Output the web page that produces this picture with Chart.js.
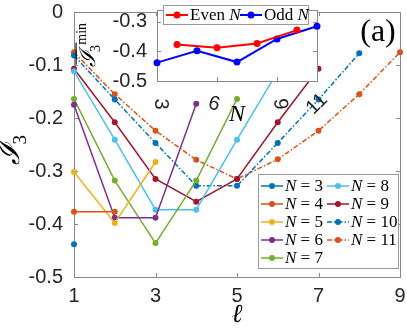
<!DOCTYPE html>
<html lang="en">
<head>
  <meta charset="UTF-8" />
  <title>I3 vs l</title>
  <script src="https://cdn.jsdelivr.net/npm/chart.js"></script>
  <style>
    html, body { margin: 0; padding: 0; background: #fff; }
    #wrap { position: relative; width: 407px; height: 332px; }
    #mainChart { position: absolute; left: 0; top: 0; }
    #insetChart { position: absolute; left: 70px; top: 0; }
  </style>
</head>
<body>
<div id="wrap">
  <canvas id="mainChart" width="407" height="332"></canvas>
  <canvas id="insetChart" width="270" height="130"></canvas>
</div>

<script>
  // main panel: I3 against subsystem size l, one curve per N
  const ell = [1, 2, 3, 4, 5, 6, 7, 8, 9];
  const sizes = [3, 4, 5, 6, 7, 8, 9, 10, 11];
  const i3N3 = [-0.438];
  const i3N4 = [-0.377, -0.377];
  const i3N5 = [-0.302, -0.398, -0.283];
  const i3N6 = [-0.175, -0.388, -0.388, -0.173];
  const i3N7 = [-0.164, -0.318, -0.436, -0.318, -0.164];
  const i3N8 = [-0.112, -0.241, -0.373, -0.373, -0.241, -0.112];
  const i3N9 = [-0.107, -0.208, -0.315, -0.358, -0.315, -0.208, -0.107];
  const i3N10 = [-0.082, -0.165, -0.247, -0.328, -0.328, -0.247, -0.165, -0.078];
  const i3N11 = [-0.076, -0.155, -0.224, -0.279, -0.315, -0.278, -0.224, -0.155, -0.076];
  const xTicks = [1, 3, 5, 7, 9];
  const yTicks = [0, -0.1, -0.2, -0.3, -0.4, -0.5];

  // inset: minimum of I3 over l, split by parity of N
  const evenN = [4, 6, 8, 10];
  const evenMin = [-0.377, -0.388, -0.373, -0.328];
  const oddN = [3, 5, 7, 9, 11];
  const oddMin = [-0.438, -0.398, -0.436, -0.358, -0.315];
  const insetXTicks = [3, 6, 9, 11];
  const insetYTicks = [-0.3, -0.4, -0.5];

  const seriesVals = [i3N3, i3N4, i3N5, i3N6, i3N7, i3N8, i3N9, i3N10, i3N11];
  const colors = ['#0072BD', '#D95319', '#EDB120', '#7E2F8E', '#77AC30', '#4DBEEE', '#A2142F', '#0072BD', '#D95319'];
  const dashDot = [5, 2, 1.5, 2];

  const tickFont = { family: 'Liberation Sans', size: 20 };
  const tickColor = '#262626';
  const axisColor = '#8a8a8a';

  function pts(xs, ys) {
    return ys.map((y, i) => ({ x: xs[i], y: y }));
  }

  // drop the extra room chart.js keeps for half labels
  function noPad(s) {
    s.paddingTop = 0; s.paddingBottom = 0;
    s.paddingLeft = 0; s.paddingRight = 0;
  }

  const mainDatasets = seriesVals.map((vals, i) => ({
    label: 'N = ' + sizes[i],
    data: pts(ell, vals),
    borderColor: colors[i],
    backgroundColor: colors[i],
    borderWidth: 1.5,
    borderDash: sizes[i] >= 10 ? dashDot : [],
    pointRadius: 3,
    pointBorderWidth: 0,
    clip: false,
    tension: 0
  }));

  // box and inward ticks, MATLAB style
  const framePlugin = {
    id: 'frame',
    beforeDatasetsDraw(chart, args, opts) {
      const ctx = chart.ctx;
      const a = chart.chartArea;
      const xs = chart.scales.x, ys = chart.scales.y;
      ctx.save();
      if (opts.fill) {
        ctx.fillStyle = '#fff';
        ctx.fillRect(a.left, a.top, a.right - a.left, a.bottom - a.top);
      }
      ctx.strokeStyle = axisColor;
      ctx.lineWidth = 1;
      ctx.strokeRect(a.left + 0.5, a.top + 0.5, a.right - a.left, a.bottom - a.top);
      const tl = 4;
      ctx.beginPath();
      opts.xt.forEach(v => {
        const px = Math.round(xs.getPixelForValue(v)) + 0.5;
        ctx.moveTo(px, a.bottom); ctx.lineTo(px, a.bottom - tl);
        ctx.moveTo(px, a.top); ctx.lineTo(px, a.top + tl);
      });
      opts.yt.forEach(v => {
        const py = Math.round(ys.getPixelForValue(v)) + 0.5;
        ctx.moveTo(a.left, py); ctx.lineTo(a.left + tl, py);
        ctx.moveTo(a.right, py); ctx.lineTo(a.right - tl, py);
      });
      ctx.stroke();
      ctx.restore();
    }
  };

  // overlined calligraphic I with subscript 3 (and optional superscript), rotated
  function drawIbar(ctx, x, y, size, sup) {
    ctx.save();
    ctx.translate(x, y);
    ctx.rotate(-Math.PI / 2);
    ctx.fillStyle = '#000';
    ctx.textBaseline = 'alphabetic';
    ctx.textAlign = 'left';
    ctx.font = 'italic ' + size + 'px "DejaVu Serif"';
    const w = ctx.measureText('ℐ').width;
    ctx.fillText('ℐ', 0, 0);
    ctx.font = Math.round(size * 0.62) + 'px "Liberation Serif"';
    ctx.fillText('3', w - size * 0.05, size * 0.22);
    let end = w;
    if (sup) {
      const w3 = ctx.measureText('3').width;
      ctx.fillText(sup, w + w3 * 0.9, -size * 0.42);
      end = w + w3 * 0.9 + ctx.measureText(sup).width;
    }
    ctx.strokeStyle = '#000';
    ctx.lineWidth = 1.2;
    ctx.beginPath();
    ctx.moveTo(size * 0.1, -size * 0.86);
    ctx.lineTo(sup ? end * 0.55 : w * 0.95, -size * 0.86);
    ctx.stroke();
    ctx.restore();
  }

  function legendText(ctx, x, y, pre, italic, post, size) {
    ctx.font = size + 'px "Liberation Serif"';
    let cx = x;
    if (pre) { ctx.fillText(pre, cx, y); cx += ctx.measureText(pre).width; }
    ctx.font = 'italic ' + size + 'px "Liberation Serif"';
    ctx.fillText(italic, cx, y); cx += ctx.measureText(italic).width;
    ctx.font = size + 'px "Liberation Serif"';
    if (post) ctx.fillText(post, cx, y);
  }

  function legendKey(ctx, x, y, ds, len, r) {
    ctx.strokeStyle = ds.borderColor;
    ctx.lineWidth = ds.borderWidth;
    ctx.setLineDash(ds.borderDash || []);
    ctx.beginPath();
    ctx.moveTo(x, y); ctx.lineTo(x + len, y);
    ctx.stroke();
    ctx.setLineDash([]);
    ctx.fillStyle = ds.borderColor;
    ctx.beginPath();
    ctx.arc(x + len / 2, y, r, 0, Math.PI * 2);
    ctx.fill();
  }

  const mainDecor = {
    id: 'mainDecor',
    afterDraw(chart) {
      const ctx = chart.ctx;
      ctx.save();
      drawIbar(ctx, 19, 165, 30, null);

      // (a)
      ctx.fillStyle = '#000';
      ctx.font = '32px "Liberation Serif"';
      ctx.textAlign = 'center';
      ctx.textBaseline = 'middle';
      ctx.fillText('(a)', 378, 33);

      // legend, two columns filled top to bottom
      const bx = 258, by = 174, bw = 140, bh = 94;
      ctx.fillStyle = '#fff';
      ctx.fillRect(bx, by, bw, bh);
      ctx.strokeStyle = '#999';
      ctx.lineWidth = 1;
      ctx.strokeRect(bx + 0.5, by + 0.5, bw, bh);
      ctx.textAlign = 'left';
      ctx.textBaseline = 'middle';
      chart.data.datasets.forEach((ds, i) => {
        const col = i < 5 ? 0 : 1;
        const row = i < 5 ? i : i - 5;
        const x = bx + 3 + col * 66;
        const y = by + 12 + row * 18;
        legendKey(ctx, x, y, ds, 22, 3);
        ctx.fillStyle = '#000';
        legendText(ctx, x + 24, y + 1, '', 'N', ' = ' + ds.label.split('= ')[1], 17);
      });
      ctx.restore();
    }
  };

  new Chart(document.getElementById('mainChart').getContext('2d'), {
    type: 'line',
    data: { datasets: mainDatasets },
    options: {
      responsive: false,
      animation: false,
      events: [],
      layout: { padding: { left: 0, right: 7, top: 12, bottom: 0 } },
      plugins: {
        legend: { display: false },
        tooltip: { enabled: false },
        frame: { xt: xTicks, yt: yTicks, fill: false }
      },
      scales: {
        x: {
          type: 'linear', min: 1, max: 9,
          afterBuildTicks: s => { s.ticks = xTicks.map(v => ({ value: v })); },
          ticks: { font: tickFont, color: tickColor, padding: 7, maxRotation: 0 },
          grid: { display: false, drawTicks: false },
          border: { display: false },
          title: {
            display: true, text: 'ℓ', color: '#000',
            font: { family: 'DejaVu Serif', style: 'italic', size: 26 },
            padding: { top: 0, bottom: 1 }
          },
          afterFit: s => { s.height = 55; noPad(s); }
        },
        y: {
          type: 'linear', min: -0.5, max: 0,
          afterBuildTicks: s => { s.ticks = yTicks.map(v => ({ value: v })); },
          ticks: { font: tickFont, color: tickColor, padding: 11 },
          grid: { display: false, drawTicks: false },
          border: { display: false },
          afterFit: s => { s.width = 74; noPad(s); }
        }
      }
    },
    plugins: [framePlugin, mainDecor]
  });

  // ---- inset ----
  const insetDecor = {
    id: 'insetDecor',
    afterDraw(chart) {
      const ctx = chart.ctx;
      const a = chart.chartArea;
      const xs = chart.scales.x;
      ctx.save();
      // rotated tick labels under the inset
      const rot = { 3: 90, 6: 15, 9: 85, 11: -45 };
      const dx = { 3: 4, 6: -3, 9: 3, 11: 0 };
      ctx.fillStyle = tickColor;
      ctx.font = '20px "Liberation Sans"';
      ctx.textAlign = 'center';
      ctx.textBaseline = 'middle';
      insetXTicks.forEach(v => {
        ctx.save();
        ctx.translate(xs.getPixelForValue(v) + dx[v], a.bottom + 23);
        ctx.rotate(rot[v] * Math.PI / 180);
        ctx.fillText(String(v), 0, 0);
        ctx.restore();
      });

      drawIbar(ctx, 25, 67, 22, 'min');

      // legend
      const bx = 93, by = 5, bw = 145, bh = 19;
      ctx.fillStyle = '#fff';
      ctx.fillRect(bx, by, bw, bh);
      ctx.strokeStyle = '#999';
      ctx.lineWidth = 1;
      ctx.strokeRect(bx + 0.5, by + 0.5, bw, bh);
      ctx.textAlign = 'left';
      ctx.textBaseline = 'middle';
      const keyX = [bx + 3, bx + 77];
      chart.data.datasets.forEach((ds, i) => {
        const y = by + 10;
        legendKey(ctx, keyX[i], y, ds, 22, 3.5);
        ctx.fillStyle = '#000';
        const parts = ds.label.split(' ');
        legendText(ctx, keyX[i] + 24, y + 1, parts[0] + ' ', parts[1], '', 17);
      });
      ctx.restore();
    }
  };

  new Chart(document.getElementById('insetChart').getContext('2d'), {
    type: 'line',
    data: {
      datasets: [
        {
          label: 'Even N', data: pts(evenN, evenMin),
          borderColor: '#FF0000', backgroundColor: '#FF0000',
          borderWidth: 2, pointRadius: 3.5, pointBorderWidth: 0, clip: false
        },
        {
          label: 'Odd N', data: pts(oddN, oddMin),
          borderColor: '#0000FF', backgroundColor: '#0000FF',
          borderWidth: 2, pointRadius: 3.5, pointBorderWidth: 0, clip: false
        }
      ]
    },
    options: {
      responsive: false,
      animation: false,
      events: [],
      layout: { padding: { left: 0, right: 23, top: 10, bottom: 0 } },
      plugins: {
        legend: { display: false },
        tooltip: { enabled: false },
        frame: { xt: [3, 6, 9], yt: insetYTicks, fill: true }
      },
      scales: {
        x: {
          type: 'linear', min: 3, max: 11,
          afterBuildTicks: s => { s.ticks = insetXTicks.map(v => ({ value: v })); },
          ticks: { display: false },
          grid: { display: false, drawTicks: false },
          border: { display: false },
          title: {
            display: true, text: 'N', color: '#000',
            font: { family: 'Liberation Serif', style: 'italic', size: 24 },
            padding: { top: 0, bottom: 1 }
          },
          afterFit: s => { s.height = 49; noPad(s); }
        },
        y: {
          type: 'linear', min: -0.5, max: -0.26,
          afterBuildTicks: s => { s.ticks = insetYTicks.map(v => ({ value: v })); },
          ticks: { font: tickFont, color: tickColor, padding: 10 },
          grid: { display: false, drawTicks: false },
          border: { display: false },
          afterFit: s => { s.width = 87; noPad(s); }
        }
      }
    },
    plugins: [framePlugin, insetDecor]
  });
</script>
</body>
</html>
